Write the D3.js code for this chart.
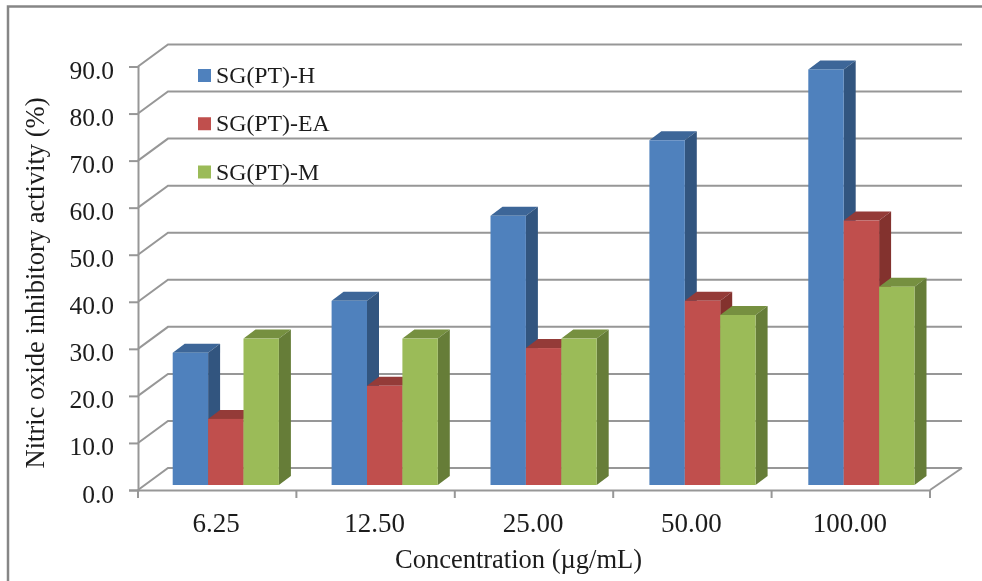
<!DOCTYPE html>
<html lang="en">
<head>
<meta charset="UTF-8">
<title>Nitric oxide inhibitory activity</title>
<script src="https://cdn.jsdelivr.net/npm/d3@7"></script>
<style>
  html, body { margin: 0; padding: 0; background: #fff; }
  svg { display: block; }
  text { font-family: "Liberation Serif", serif; fill: #1c1c1c; }
</style>
</head>
<body>
<div id="chart"></div>
<script>
const concentrations = ["6.25", "12.50", "25.00", "50.00", "100.00"];
const seriesNames = ["SG(PT)-H", "SG(PT)-EA", "SG(PT)-M"];
const hValues = [28, 39, 57, 73, 88];
const eaValues = [14, 21, 29, 39, 56];
const mValues = [31, 31, 31, 36, 42];
const yTicks = [0, 10, 20, 30, 40, 50, 60, 70, 80, 90];

const seriesValues = [hValues, eaValues, mValues];
const faceColors = ["#4f81bd", "#c0504d", "#9bbb59"];
const topColors = ["#3c6698", "#943a38", "#76903f"];
const sideColors = ["#33557f", "#83302e", "#667d39"];

const w = 982, h = 581;
// 3D wall offset and bar depth
const wallDx = 30, wallDy = -22;
const sideDx = 12, sideDy = -9;

const xScale = d3.scaleBand().domain(concentrations).range([138, 930]);
const yScale = d3.scaleLinear().domain([0, 90]).range([490, 66.5]);
// bars stand a little inside the floor, so they get their own scales
const barX = d3.scaleBand().domain(concentrations).range([172.7, 967.2]);
const barY = d3.scaleLinear().domain([0, 90]).range([485, 60]);
const barWidth = 35.4;

const svg = d3.select("#chart").append("svg").attr("width", w).attr("height", h);
const defs = svg.append("defs");
defs.append("filter").attr("id", "soft").append("feGaussianBlur").attr("stdDeviation", 0.45);
const root = svg.append("g").attr("filter", "url(#soft)");

// outer frame
root.append("path")
  .attr("d", `M8,${h} V6.5 H${w}`)
  .attr("fill", "none").attr("stroke", "#868686").attr("stroke-width", 2.5);

// gridlines running along the back wall
const gridColor = "#979797";
root.append("g").selectAll("path")
  .data(yTicks)
  .enter().append("path")
  .attr("fill", "none")
  .attr("stroke", gridColor)
  .attr("stroke-width", 2)
  .attr("d", d => {
    const y = yScale(d);
    return `M${xScale.range()[0]},${y} L${xScale.range()[0] + wallDx},${y + wallDy} H${xScale.range()[1] + wallDx + 2}`;
  });

// floor right edge
root.append("path")
  .attr("fill", "none").attr("stroke", gridColor).attr("stroke-width", 2)
  .attr("d", `M${xScale.range()[1]},${yScale(0)} L${xScale.range()[1] + wallDx + 2},${yScale(0) + wallDy}`);

// axes
const yAxis = d3.axisLeft(yScale).tickValues(yTicks).tickSize(9).tickPadding(15)
  .tickFormat(d3.format(".1f"));
const yG = root.append("g").attr("transform", "translate(138,0)").call(yAxis);

const xAxis = d3.axisBottom(xScale).tickSize(0).tickPadding(23);
const xG = root.append("g").attr("transform", `translate(0,${yScale(0)})`).call(xAxis);

[yG, xG].forEach(g => {
  g.selectAll("path.domain").attr("stroke", gridColor).attr("stroke-width", 2);
  g.selectAll(".tick line").attr("stroke", gridColor).attr("stroke-width", 2);
  g.attr("font-family", null);
  g.selectAll("text").attr("fill", "#1c1c1c");
});
yG.selectAll("text").attr("font-size", 25.5).attr("dy", "0.47em");
xG.selectAll("text").attr("font-size", 27).attr("dx", -1);

// x ticks sit between the categories
root.append("g").selectAll("line")
  .data(concentrations.map(d => xScale(d)).concat(xScale.range()[1]))
  .enter().append("line")
  .attr("x1", d => d).attr("x2", d => d)
  .attr("y1", yScale(0)).attr("y2", yScale(0) + 8)
  .attr("stroke", gridColor).attr("stroke-width", 2);

// bars, drawn left to right so nearer faces overlap
const bars = root.append("g");
concentrations.forEach((cat, c) => {
  seriesValues.forEach((vals, s) => {
    const x0 = barX(cat) + s * barWidth;
    const x1 = x0 + barWidth;
    const yTop = barY(vals[c]);
    const yBot = barY(0);
    const g = bars.append("g");
    g.append("polygon")
      .attr("fill", topColors[s])
      .attr("points", [[x0, yTop], [x0 + sideDx, yTop + sideDy], [x1 + sideDx, yTop + sideDy], [x1, yTop]].join(" "));
    g.append("polygon")
      .attr("fill", sideColors[s])
      .attr("points", [[x1, yTop], [x1 + sideDx, yTop + sideDy], [x1 + sideDx, yBot + sideDy], [x1, yBot]].join(" "));
    g.append("rect")
      .attr("x", x0).attr("y", yTop)
      .attr("width", barWidth).attr("height", yBot - yTop)
      .attr("fill", faceColors[s]);
  });
});

// legend
const legendY = d3.scalePoint().domain(seriesNames).range([75.5, 172]);
const legend = root.append("g").selectAll("g")
  .data(seriesNames)
  .enter().append("g")
  .attr("transform", d => `translate(198,${legendY(d)})`);
legend.append("rect")
  .attr("x", 0).attr("y", -6.5).attr("width", 13).attr("height", 13)
  .attr("fill", (d, i) => faceColors[i]);
legend.append("text")
  .attr("x", 18).attr("y", 7.5)
  .attr("font-size", 23.8)
  .text(d => d);

// axis titles
root.append("text")
  .attr("x", 518.5).attr("y", 568)
  .attr("text-anchor", "middle")
  .attr("font-size", 26.5)
  .text("Concentration (µg/mL)");

root.append("text")
  .attr("transform", "translate(44,283) rotate(-90)")
  .attr("text-anchor", "middle")
  .attr("font-size", 26.5)
  .text("Nitric oxide inhibitory activity (%)");
</script>
</body>
</html>
